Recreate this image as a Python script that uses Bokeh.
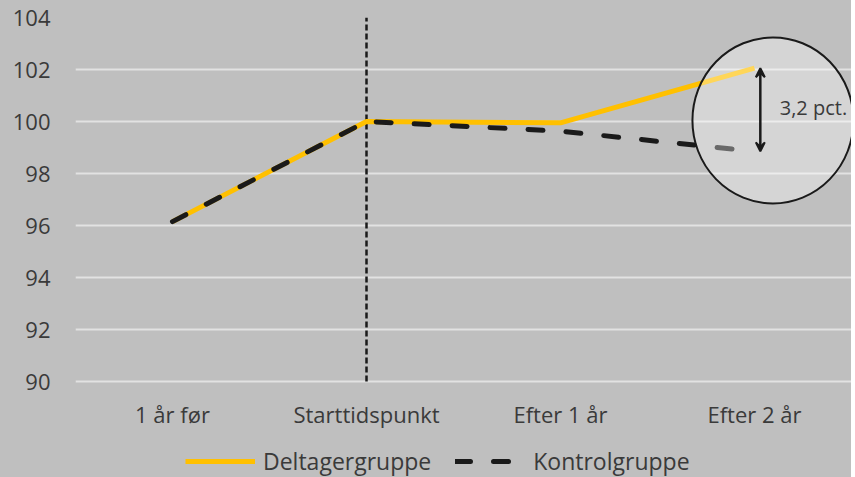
from bokeh.plotting import figure
from bokeh.models import (Range1d, FixedTicker, Legend, LegendItem, Arrow, VeeHead, Label)
from bokeh.core.properties import value
from bokeh.embed import file_html
from bokeh.resources import INLINE

categories = ["1 år før", "Starttidspunkt", "Efter 1 år", "Efter 2 år"]
deltager = [96.15, 100.0, 99.95, 102.05]
kontrol = [96.15, 100.0, 99.63, 98.85]
y_ticks = [90, 92, 94, 96, 98, 100, 102, 104]
diff_label = "3,2 pct."
legend_labels = ["Deltagergruppe", "Kontrolgruppe"]

xs = [i + 0.5 for i in range(len(categories))]

BG = "#bfbfbf"
FONT = "Open Sans"
TXT = "#3a3a3a"

# layout: plot area 17..381 px holds 90..104; frame extends down to 477 px for labels/legend
W, H = 851, 477
TOP, LEFT = 17, 75
AXIS_BOTTOM_PX = 381
px_per_unit = (AXIS_BOTTOM_PX - TOP) / (y_ticks[-1] - y_ticks[0])
y_min = y_ticks[0] - (H - AXIS_BOTTOM_PX) / px_per_unit

p = figure(width=W, height=H, output_backend="svg", toolbar_location=None,
           x_range=Range1d(0, 4), y_range=Range1d(y_min, y_ticks[-1]),
           background_fill_alpha=0, border_fill_alpha=0,
           min_border_left=LEFT, min_border_top=TOP, min_border_right=0, min_border_bottom=0)
p.styles = {"background-color": BG}
p.outline_line_color = None

# y axis
p.xaxis.visible = False
p.yaxis.ticker = FixedTicker(ticks=y_ticks)
ax = p.yaxis[0]
ax.axis_line_color = None
ax.major_tick_line_color = None
ax.minor_tick_line_color = None
ax.major_tick_out = 0
ax.major_tick_in = 0
ax.minor_tick_out = 0
ax.minor_tick_in = 0
ax.major_label_text_font = FONT
ax.major_label_text_font_size = "22px"
ax.major_label_text_color = TXT
ax.major_label_standoff = 25

p.xgrid.grid_line_color = None
p.ygrid.ticker = FixedTicker(ticks=y_ticks)
p.ygrid.grid_line_color = "#e2e2e2"
p.ygrid.grid_line_width = 2

# category labels (x axis)
label_y = y_ticks[0] - 32 / px_per_unit
p.text(x=xs, y=[label_y] * len(xs), text=categories, text_font=value(FONT),
       text_font_size="22px", text_color=TXT, text_align="center", text_baseline="middle")

# vertical dashed line at start
p.segment(x0=[xs[1]], y0=[y_ticks[0]], x1=[xs[1]], y1=[y_ticks[-1]],
          line_color="#1a1a1a", line_width=2.5, line_dash="6 3")

r1 = p.line(xs, deltager, line_color="#FFC000", line_width=5)
r2 = p.line(xs, kontrol, line_color="#1a1a1a", line_width=5, line_dash="15 23",
            line_cap="round")

# highlight circle
p.ellipse(x=[3.595], y=[100.04], width=[161], height=[166], width_units="screen",
          height_units="screen", fill_color="white", fill_alpha=0.35,
          line_color="#1a1a1a", line_width=2)

# difference arrow
p.add_layout(Arrow(x_start=3.53, y_start=deltager[3], x_end=3.53, y_end=kontrol[3],
                   line_color="#1a1a1a", line_width=2.5,
                   start=VeeHead(size=9, line_color="#1a1a1a", fill_color="#1a1a1a", line_width=2),
                   end=VeeHead(size=9, line_color="#1a1a1a", fill_color="#1a1a1a", line_width=2)))
p.add_layout(Label(x=3.63, y=100.55, text=diff_label, text_font=FONT,
                   text_font_size="20px", text_color=TXT, text_baseline="middle"))

legend = Legend(items=[LegendItem(label=legend_labels[0], renderers=[r1]),
                       LegendItem(label=legend_labels[1], renderers=[r2])],
                orientation="horizontal", location=(110, 0),
                background_fill_alpha=0, border_line_color=None,
                label_text_font=FONT, label_text_font_size="23px", label_text_color=TXT,
                glyph_width=70, glyph_height=24, spacing=24, padding=0, margin=0,
                label_standoff=8)
p.add_layout(legend)

open("out.html", "w").write(file_html(p, INLINE))
